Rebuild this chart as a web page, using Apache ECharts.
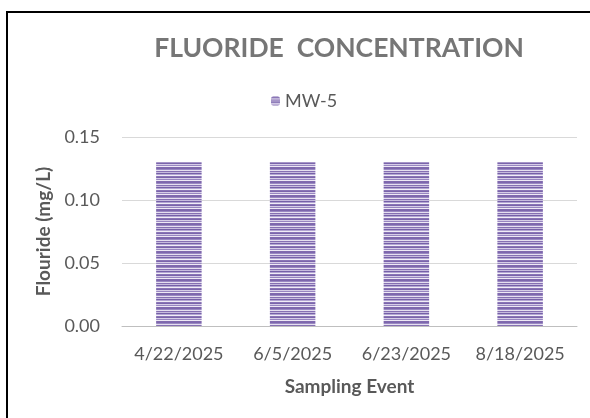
<!DOCTYPE html>
<html>
<head>
<meta charset="utf-8">
<script src="https://cdn.jsdelivr.net/npm/echarts@6/dist/echarts.min.js"></script>
<style>
  html, body { margin: 0; padding: 0; background: #fff; overflow: hidden; }
  #frame { position: absolute; left: 6px; top: 11px; width: 600px; height: 420px;
           border-left: 2px solid #000; border-top: 2px solid #000; }
  #main { position: absolute; left: 0; top: 0; width: 590px; height: 418px; }
</style>
</head>
<body>
<div id="frame"></div>
<div id="main"></div>
<script>
// chart data
var categories = ['4/22/2025', '6/5/2025', '6/23/2025', '8/18/2025'];
var mw5 = [0.13, 0.13, 0.13, 0.13];
var seriesName = 'MW-5';

// striped fill like the excel pattern
function stripes() {
    var c = document.createElement('canvas');
    c.width = 4; c.height = 14;
    var ctx = c.getContext('2d');
    var rows = ['#7d67ad', '#9a88c2', '#e6e0f0', '#8670b3', '#c7bbde', '#7560a8', '#b3a5d3',
                '#f1edf7', '#8a75b6', '#7a64ab', '#d6cde7', '#9886c1', '#eee9f5', '#8069ae'];
    for (var i = 0; i < rows.length; i++) {
        ctx.fillStyle = rows[i];
        ctx.fillRect(0, i, 4, 1);
    }
    return c;
}

var myChart = echarts.init(document.getElementById('main'));
var font = 'Lato';
var option = {
    animation: false,
    title: {
        text: 'FLUORIDE  CONCENTRATION',
        left: 334,
        textAlign: 'center',
        top: 30,
        textStyle: { fontFamily: font, fontSize: 26.5, fontWeight: 'bold', color: '#767676' }
    },
    legend: {
        data: [seriesName],
        left: 266,
        top: 87,
        itemWidth: 9,
        itemHeight: 9,
        itemGap: 5,
        textStyle: { fontFamily: font, fontSize: 18, color: '#595959' }
    },
    grid: { left: 122, right: 13, top: 137, bottom: 92 },
    xAxis: {
        type: 'category',
        data: categories,
        name: 'Sampling Event',
        nameLocation: 'middle',
        nameGap: 51,
        nameTextStyle: { fontFamily: font, fontSize: 19, fontWeight: 'bold', color: '#595959' },
        axisLine: { lineStyle: { color: '#bfbfbf', width: 1 } },
        axisTick: { show: false },
        axisLabel: { interval: 0, fontFamily: font, fontSize: 18, color: '#595959', margin: 19 }
    },
    yAxis: {
        type: 'value',
        min: 0,
        max: 0.15,
        interval: 0.05,
        name: 'Flouride (mg/L)',
        nameLocation: 'middle',
        nameGap: 67,
        nameTextStyle: { fontFamily: font, fontSize: 19, fontWeight: 'bold', color: '#595959' },
        axisLine: { show: false },
        axisTick: { show: false },
        splitLine: { lineStyle: { color: '#d9d9d9' } },
        axisLabel: {
            fontFamily: font, fontSize: 18, color: '#595959', margin: 22,
            formatter: function (v) { return v.toFixed(2); }
        }
    },
    series: [{
        name: seriesName,
        type: 'bar',
        data: mw5,
        barWidth: '40%',
        itemStyle: { color: { image: stripes(), repeat: 'repeat' } }
    }]
};
myChart.setOption(option);
</script>
</body>
</html>
